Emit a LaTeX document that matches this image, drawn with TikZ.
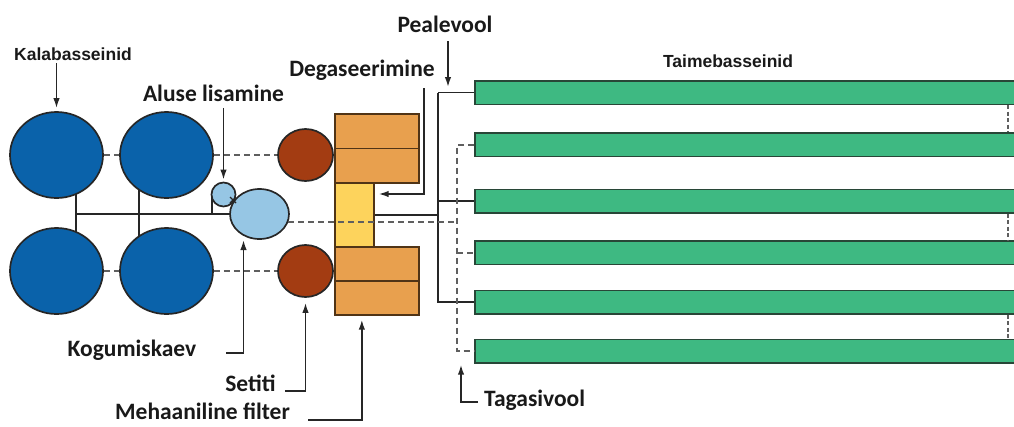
\documentclass[tikz,border=0pt]{standalone}
\usepackage{fontspec}
\setmainfont{Carlito}
\newfontfamily\headfont{Liberation Sans}
\usetikzlibrary{shapes.geometric,arrows.meta,calc}
\definecolor{ink}{RGB}{38,38,38}
\definecolor{fishblue}{RGB}{10,98,170}
\definecolor{settler}{RGB}{163,60,18}
\definecolor{filterorange}{RGB}{232,160,78}
\definecolor{filteredge}{RGB}{80,52,22}
\definecolor{degasyellow}{RGB}{253,211,92}
\definecolor{sumpblue}{RGB}{150,198,228}
\definecolor{bedgreen}{RGB}{62,185,130}
\definecolor{bededge}{RGB}{40,70,55}
\definecolor{pipegrey}{RGB}{95,95,95}
\pgfdeclarelayer{pipes}
\pgfsetlayers{pipes,main}
\begin{document}
\begin{tikzpicture}[x=1pt,y=-1pt,
  tank/.style={ellipse,draw=ink,line width=1.7pt,inner sep=0pt},
  fishtank/.style={tank,fill=fishblue,minimum width=93pt,minimum height=86pt},
  settle/.style={tank,fill=settler,minimum width=55pt,minimum height=52pt},
  sump/.style={tank,fill=sumpblue},
  block/.style={rectangle,line width=1.7pt,inner sep=0pt,anchor=north west},
  filterbox/.style={block,draw=filteredge,fill=filterorange,minimum width=84pt,minimum height=34pt},
  degasbox/.style={block,draw=filteredge,fill=degasyellow,minimum width=39pt,minimum height=64pt},
  bed/.style={block,draw=bededge,fill=bedgreen,minimum width=560pt,minimum height=23.5pt},
  pipe/.style={draw=ink,line width=1.7pt},
  ret/.style={draw=pipegrey,line width=1.8pt,dash pattern=on 6pt off 4pt},
  overflow/.style={draw=pipegrey,line width=1.6pt,dash pattern=on 4pt off 2.5pt},
  pointer/.style={draw=ink,line width=1.6pt,-{Latex[length=10pt,width=6.5pt]}},
  lbl/.style={font=\fontsize{23.5}{26}\selectfont\bfseries,text=black!90,inner sep=0pt,anchor=base},
  head/.style={font=\headfont\fontsize{17.5}{20}\selectfont\bfseries,text=black!90,inner sep=0pt,anchor=base}
]
\useasboundingbox (0,0) rectangle (1014,426);
\clip (0,0) rectangle (1014,426);

% fish tanks
\node[fishtank] (fA) at (56.5,155) {};
\node[fishtank] (fB) at (166.5,155) {};
\node[fishtank] (fC) at (56.5,271) {};
\node[fishtank] (fD) at (166.5,271) {};

% settlers
\node[settle] (sA) at (305.5,155) {};
\node[settle] (sB) at (305.5,271) {};

% base dosing and collecting tank
\node[sump,minimum width=24pt,minimum height=24pt] (base) at (223.5,194.5) {};
\node[sump,minimum width=59pt,minimum height=50pt] (col) at (259.5,214) {};

% mechanical filter and degassing
\node[degasbox] (deg) at (334,182) {};
\node[filterbox,minimum height=34.5pt] (oa1) at (334,113) {};
\node[filterbox,minimum height=34.5pt] (oa2) at (334,147.5) {};
\node[filterbox] (ob1) at (334,246) {};
\node[filterbox] (ob2) at (334,280) {};

% plant beds
\node[bed] (g1) at (474,80) {};
\node[bed] (g2) at (474,132) {};
\node[bed] (g3) at (474,188.5) {};
\node[bed] (g4) at (474,240) {};
\node[bed] (g5) at (474,289.5) {};
\node[bed] (g6) at (474,338.5) {};

% outlet pipes under the tanks
\begin{pgfonlayer}{pipes}
  \coordinate (dA) at ($(fA.center)+(19.5,0)$);
  \coordinate (dB) at ($(fB.center)+(-27.5,0)$);
  \draw[pipe] (dA) -- (dA |- fC.center);
  \draw[pipe] (dB) -- (dB |- fD.center);
  \draw[pipe] (dA |- col.center) -- (col.center);
  \coordinate (dose) at ($(base.center)+(-11.5,0)$);
  \draw[pipe] (dose) -- (dose |- col.center);
\end{pgfonlayer}
\draw[pipe,line width=1.1pt] ($(base.center)+(6.5,2.5)$) -- ($(base.center)+(12.5,8.5)$)
  ($(base.center)+(6.5,8.5)$) -- ($(base.center)+(12.5,2.5)$);

% water flow between tanks
\draw[ret] (fA.east) -- (fB.west);
\draw[ret] (fB.east) -- (sA.west);
\draw[ret] (fC.east) -- (fD.west);
\draw[ret] (fD.east) -- (sB.west);

% supply manifold
\coordinate (feed) at (438,0);
\draw[pipe] (g1.west -| feed) -- (g5.west -| feed) -- (g5.west);
\draw[pipe] (g1.west -| feed) -- (g1.west);
\draw[pipe] (g3.west -| feed) -- (g3.west);
\draw[pipe] (deg.east) -- (deg.east -| feed);

% return manifold
\coordinate (back) at (457,0);
\draw[ret] (col.-15) -- (col.-15 -| back);
\draw[ret] (g2.west) -- (g2.west -| back) -- (g6.west -| back) -- (g6.west);
\draw[ret] (g4.west -| back) -- (g4.west);

% overflow between paired beds
\coordinate (over) at (1008,0);
\draw[overflow] (g1.south -| over) -- (g2.north -| over);
\draw[overflow] (g3.south -| over) -- (g4.north -| over);
\draw[overflow] (g5.south -| over) -- (g6.north -| over);

% labels
\node[head] (kala) at (73,60) {Kalabasseinid};
\node[head] (taime) at (728,67.5) {Taimebasseinid};
\node[lbl] (aluse) at (213.5,101.5) {Aluse lisamine};
\node[lbl] (degl) at (362,76) {Degaseerimine};
\node[lbl] (peal) at (445,32) {Pealevool};
\node[lbl] (kog) at (132,356) {Kogumiskaev};
\node[lbl] (set) at (250.5,391) {Setiti};
\node[lbl] (meh) at (202.5,419) {Mehaaniline filter};
\node[lbl,anchor=base west] (tag) at (484,406) {Tagasivool};

% pointers
\draw[pointer] ($(fA.north |- kala.south)+(0,3)$) -- ($(fA.north)+(0,-3)$);
\draw[pointer] ($(base.north |- aluse.south)+(0,6)$) -- ($(base.north)+(0,-2)$);
\coordinate (dk) at (424,194);
\draw[pointer] ($(degl.south -| dk)+(0,8)$) -- (dk) -- ($(deg.east |- dk)+(4,0)$);
\coordinate (pk) at (448,87);
\draw[pointer] ($(peal.south -| pk)+(0,9)$) -- (pk);
\coordinate (kk) at ($(col.center)+(-16,26)$);
\draw[pointer] ($(kog.base east)+(30,-3)$) -| (kk);
\coordinate (sk) at ($(sB.south)+(0,5)$);
\draw[pointer] ($(set.base east)+(9,0)$) -| (sk);
\coordinate (mk) at ($(ob2.south)+(-15,4)$);
\draw[pointer] ($(meh.base east)+(18,1)$) -| (mk);
\coordinate (tk) at ($(g6.south -| back)+(4,1)$);
\draw[pointer] ($(tag.base west)+(-6,-4)$) -| (tk);
\end{tikzpicture}
\end{document}
